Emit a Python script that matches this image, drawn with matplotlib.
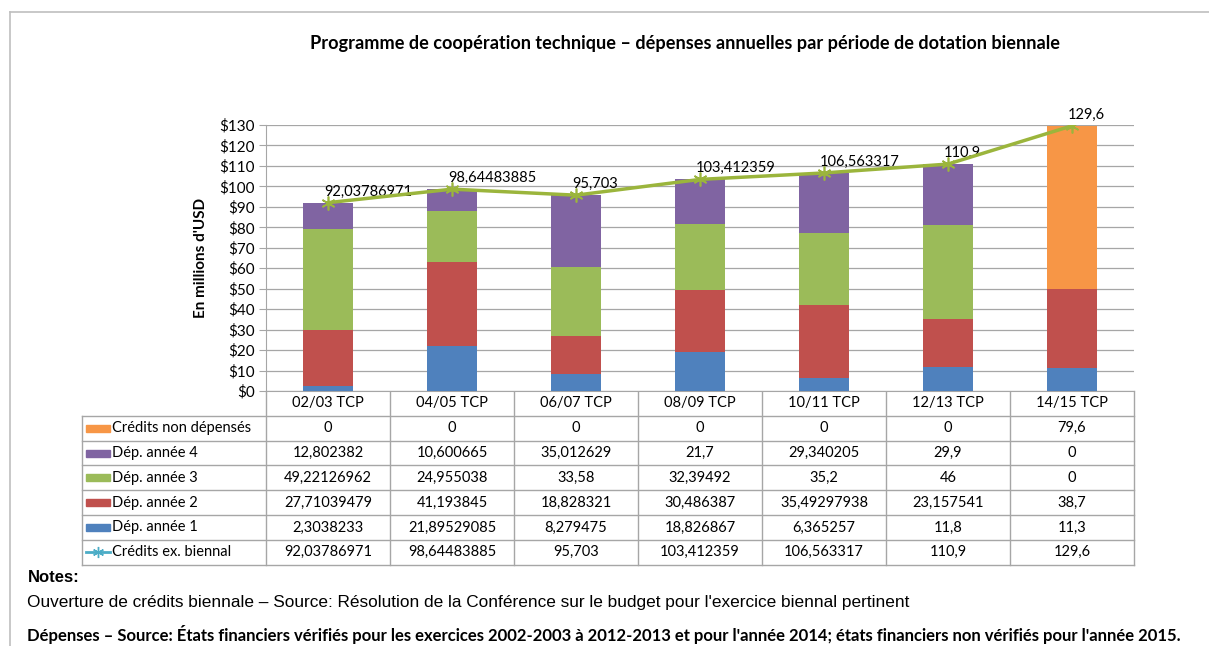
import numpy as np
import matplotlib.pyplot as plt

# Données (millions d'USD)
categories = ['02/03 TCP', '04/05 TCP', '06/07 TCP', '08/09 TCP', '10/11 TCP', '12/13 TCP', '14/15 TCP']
dep_annee1 = [2.3038233, 21.89529085, 8.279475, 18.826867, 6.365257, 11.8, 11.3]
dep_annee2 = [27.71039479, 41.193845, 18.828321, 30.486387, 35.49297938, 23.157541, 38.7]
dep_annee3 = [49.22126962, 24.955038, 33.58, 32.39492, 35.2, 46, 0]
dep_annee4 = [12.802382, 10.600665, 35.012629, 21.7, 29.340205, 29.9, 0]
non_depenses = [0, 0, 0, 0, 0, 0, 79.6]
credits_biennal = [92.03786971, 98.64483885, 95.703, 103.412359, 106.563317, 110.9, 129.6]
y_ticks = list(range(0, 131, 10))

def fmt(v):
    return ('%.10g' % v).replace('.', ',')

plt.rcParams['font.family'] = ['Lato', 'DejaVu Sans']

W, H = 1209, 646
PLOT_L, PLOT_R, PLOT_T, PLOT_B = 266, 1134, 125, 391
TAB_L, ROW_H = 82, 24.8
GRID = '#A6A6A6'

fig = plt.figure(figsize=(W / 100, H / 100), dpi=100)

# overlay in pixel coords for frame, table and notes
ov = fig.add_axes([0, 0, 1, 1])
ov.set_xlim(0, W)
ov.set_ylim(H, 0)
ov.axis('off')

ax = fig.add_axes([PLOT_L / W, 1 - PLOT_B / H, (PLOT_R - PLOT_L) / W, (PLOT_B - PLOT_T) / H])
x = np.arange(len(categories))

series = [
    ('Dép. année 1', dep_annee1, '#4F81BD'),
    ('Dép. année 2', dep_annee2, '#C0504D'),
    ('Dép. année 3', dep_annee3, '#9BBB59'),
    ('Dép. année 4', dep_annee4, '#8064A2'),
    ('Crédits non dépensés', non_depenses, '#F79646'),
]
bottom = np.zeros(len(categories))
for name, vals, col in series:
    ax.bar(x, vals, width=0.4, bottom=bottom, color=col, zorder=3)
    bottom += np.array(vals)

line_col = '#9BB53C'
ax.plot(x, credits_biennal, color=line_col, lw=2.5, marker=(6, 2, 0), ms=10, mew=1.2, zorder=4)
for xi, v in zip(x, credits_biennal):
    ax.annotate(fmt(v), (xi, v), xytext=(-3, 3), textcoords='offset points',
                ha='left', va='bottom', fontsize=10.5)

ax.set_xlim(-0.5, len(categories) - 0.5)
ax.set_ylim(0, 130)
ax.set_yticks(y_ticks)
ax.set_yticklabels(['$%d' % t for t in y_ticks])
ax.set_xticks([])
ax.tick_params(axis='y', length=5, color=GRID, labelsize=11, pad=3)
ax.yaxis.grid(True, color=GRID, lw=0.9)
ax.set_axisbelow(True)
for s in ['top', 'right']:
    ax.spines[s].set_visible(False)
for s in ['left', 'bottom']:
    ax.spines[s].set_color(GRID)
ax.set_ylabel("En millions d'USD", fontweight='bold', fontsize=11, labelpad=8)

fig.text(685 / W, 1 - 43 / H,
         'Programme de coopération technique – dépenses annuelles par période de dotation biennale',
         ha='center', va='center', fontsize=13.1, fontweight='bold')

# outer frame
ov.plot([10, W], [12, 12], color='#BFBFBF', lw=1.2)
ov.plot([10, 10], [12, H], color='#BFBFBF', lw=1.2)

# data table
col_w = (PLOT_R - PLOT_L) / len(categories)
rows = [
    ('Crédits non dépensés', non_depenses, '#F79646', 'bar'),
    ('Dép. année 4', dep_annee4, '#8064A2', 'bar'),
    ('Dép. année 3', dep_annee3, '#9BBB59', 'bar'),
    ('Dép. année 2', dep_annee2, '#C0504D', 'bar'),
    ('Dép. année 1', dep_annee1, '#4F81BD', 'bar'),
    ('Crédits ex. biennal', credits_biennal, '#4BACC6', 'line'),
]
tab_bottom = PLOT_B + ROW_H * (len(rows) + 1)
for i, cat in enumerate(categories):
    cx = PLOT_L + (i + 0.5) * col_w
    ov.text(cx, PLOT_B + ROW_H / 2, cat, ha='center', va='center', fontsize=10.5)
for i in range(len(categories) + 1):
    ov.plot([PLOT_L + i * col_w] * 2, [PLOT_B, tab_bottom], color=GRID, lw=1)
ov.plot([TAB_L, TAB_L], [PLOT_B + ROW_H, tab_bottom], color=GRID, lw=1)
for r in range(1, len(rows) + 2):
    ov.plot([TAB_L, PLOT_R], [PLOT_B + r * ROW_H] * 2, color=GRID, lw=1)
for r, (name, vals, col, kind) in enumerate(rows):
    cy = PLOT_B + (r + 1.5) * ROW_H
    if kind == 'bar':
        ov.add_patch(plt.Rectangle((86, cy - 3.5), 24, 7, color=col))
    else:
        ov.plot([86, 110], [cy, cy], color=col, lw=2)
        ov.plot([98], [cy], marker=(6, 2, 0), color=col, ms=8, mew=1)
    ov.text(112, cy, name, ha='left', va='center', fontsize=10.5)
    for i, v in enumerate(vals):
        ov.text(PLOT_L + (i + 0.5) * col_w, cy, fmt(v), ha='center', va='center', fontsize=10.5)

# notes
ov.text(28, 578, 'Notes:', ha='left', va='center', fontsize=12,
        fontweight='bold', family='Liberation Sans')
ov.text(27, 602, "Ouverture de crédits biennale – Source: Résolution de la Conférence sur le budget "
        "pour l'exercice biennal pertinent", ha='left', va='center', fontsize=12.4,
        family='Liberation Sans')
ov.text(27, 635, "Dépenses – Source: États financiers vérifiés pour les exercices 2002-2003 à 2012-2013 "
        "et pour l'année 2014; états financiers non vérifiés pour l'année 2015.",
        ha='left', va='center', fontsize=12, fontweight='bold')

fig.savefig('out.png', dpi=100)
